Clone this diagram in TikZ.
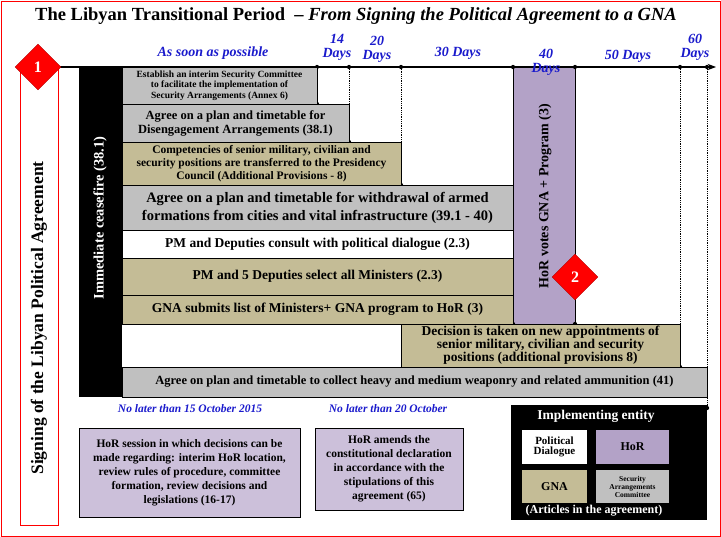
\documentclass[tikz,border=0pt]{standalone}
\usepackage{fontspec}
\setmainfont{Liberation Serif}
\usetikzlibrary{shapes.geometric,arrows.meta}
\definecolor{gr}{HTML}{C0C0C0}
\definecolor{tanc}{HTML}{C4BC96}
\definecolor{pur}{HTML}{B3A2C7}
\definecolor{lav}{HTML}{CCC0DA}
\definecolor{blu}{HTML}{1A1ACC}
\tikzset{
 row/.style={draw=black,thick,font=\bfseries,align=center,inner sep=0pt},
 dl/.style={blu,font=\bfseries\itshape\fontsize{14}{14}\selectfont,align=center},
 dot/.style={densely dotted,thick},
 dmd/.style={diamond,fill=red,draw=red!70!black,minimum size=46pt,inner sep=0pt,text=white,font=\bfseries\fontsize{16}{16}\selectfont},
 pt/.style={circle,fill=black,inner sep=1.5pt},
}
\begin{document}
\begin{tikzpicture}[x=1pt,y=-1pt]
\useasboundingbox (0,0) rectangle (721,537);
\draw[red,thick] (1,1) rectangle (720,536);
\node[font=\bfseries\fontsize{18.5}{18}\selectfont] (title) at (356,16) {The Libyan Transitional Period \ -- \textit{From Signing the Political Agreement to a GNA}};
% axis
\coordinate (a0) at (55,67); \coordinate (a1) at (716,67);
\draw[very thick,-{Stealth}] (a0) -- (a1);
% left box
\draw[red,thick] (20,67) rectangle (58,525);
\node[rotate=90,font=\bfseries\fontsize{17.5}{17}\selectfont] (sign) at (39,318) {Signing of the Libyan Political Agreement};
\node[dmd] (d1) at (38,67) {1};
% black bar
\fill (79,67) rectangle (122,397);
\node[rotate=90,text=white,font=\bfseries\fontsize{14.5}{14}\selectfont] (cease) at (100,218) {Immediate ceasefire (38.1)};
% HoR column
\draw[thick,fill=pur] (513,67) rectangle (575,324);
\node[rotate=90,font=\bfseries\fontsize{14}{14}\selectfont] (hor) at (545,196) {HoR votes GNA + Program (3)};
% dotted
\foreach \x/\y in {317/104,349/142,401/185,513/324,575/324,680/367,707/408}{\draw[dot] (\x,67) -- (\x,\y); \node[pt] at (\x,67){}; \node[pt] at (\x,\y){};}
% rows
\node[row,fill=gr,minimum width=195pt,minimum height=37pt,font=\bfseries\fontsize{9.5}{10.5}\selectfont] (r1) at (219.5,85.5) {Establish an interim Security Committee\\to facilitate the implementation of\\Security Arrangements (Annex 6)};
\node[row,fill=gr,minimum width=227pt,minimum height=38pt,font=\bfseries\fontsize{12.5}{14}\selectfont] (r2) at (235.5,123) {Agree on a plan and timetable for\\Disengagement Arrangements (38.1)};
\node[row,fill=tanc,minimum width=279pt,minimum height=43pt,font=\bfseries\fontsize{11.5}{13}\selectfont] (r3) at (261.5,163.5) {Competencies of senior military, civilian and\\security positions are transferred to the Presidency\\Council (Additional Provisions - 8)};
\node[row,fill=gr,minimum width=391pt,minimum height=45pt,font=\bfseries\fontsize{14.5}{18}\selectfont] (r4) at (317.5,207.5) {Agree on a plan and timetable for withdrawal of armed\\formations from cities and vital infrastructure (39.1 - 40)};
\node[row,fill=white,minimum width=391pt,minimum height=28pt,font=\bfseries\fontsize{13.5}{13}\selectfont] (r5) at (317.5,244) {PM and Deputies consult with political dialogue (2.3)};
\node[row,fill=tanc,minimum width=391pt,minimum height=37pt,font=\bfseries\fontsize{13.5}{13}\selectfont] (r6) at (317.5,276.5) {PM and 5 Deputies select all Ministers (2.3)};
\node[row,fill=tanc,minimum width=391pt,minimum height=29pt,font=\bfseries\fontsize{13.5}{13}\selectfont] (r7) at (317.5,309.5) {GNA submits list of Ministers+ GNA program to HoR (3)};
\node[row,fill=tanc,minimum width=279pt,minimum height=43pt,font=\bfseries\fontsize{13.5}{13}\selectfont] (r8) at (540.5,345.5) {Decision is taken on new appointments of\\senior military, civilian and security\\positions (additional provisions 8)};
\node[row,fill=gr,minimum width=585pt,minimum height=30pt,font=\bfseries\fontsize{12.5}{13}\selectfont] (r9) at (414.5,382) {Agree on plan and timetable to collect heavy and medium weaponry and related ammunition (41)};
\node[dmd] (d2) at (575,277) {2};
% labels
\node[dl] (l0) at (213,53) {As soon as possible};
\node[dl] (l1) at (337,47) {14\\Days};
\node[dl] (l2) at (377,49) {20\\Days};
\node[dl] (l3) at (458,53) {30 Days};
\node[dl] (l4) at (546,62) {40\\Days};
\node[dl] (l5) at (628,56) {50 Days};
\node[dl] (l6) at (695,47) {60\\Days};
% bottom
\node[dl,font=\bfseries\itshape\fontsize{11.5}{12}\selectfont] (n1) at (190,409) {No later than 15 October 2015};
\node[row,fill=lav,minimum width=221pt,minimum height=89pt,font=\bfseries\fontsize{11.5}{14}\selectfont] (b1) at (189.5,472.5) {HoR session in which decisions can be\\made regarding: interim HoR location,\\review rules of procedure, committee\\formation, review decisions and\\legislations (16-17)};
\node[dl,font=\bfseries\itshape\fontsize{11.5}{12}\selectfont] (n2) at (388,409) {No later than 20 October};
\node[row,fill=lav,minimum width=148pt,minimum height=82pt,font=\bfseries\fontsize{11.5}{14}\selectfont] (b2) at (389,469) {HoR amends the\\constitutional declaration\\in accordance with the\\stipulations of this\\agreement (65)};
% legend
\fill (511,405) rectangle (707,520);
\node[text=white,font=\bfseries\fontsize{13.5}{13}\selectfont] (lt) at (596,416) {Implementing entity};
\node[fill=white,minimum width=65pt,minimum height=34pt,inner sep=0pt,align=center,font=\bfseries\fontsize{11}{10}\selectfont] (g1) at (554.5,447) {Political\\Dialogue};
\node[fill=pur,minimum width=73pt,minimum height=34pt,inner sep=0pt,font=\bfseries\fontsize{12}{11}\selectfont] (g2) at (632.5,447) {HoR};
\node[fill=tanc,minimum width=65pt,minimum height=33pt,inner sep=0pt,font=\bfseries\fontsize{12}{11}\selectfont] (g3) at (554.5,486.5) {GNA};
\node[fill=gr,minimum width=73pt,minimum height=33pt,inner sep=0pt,align=center,font=\bfseries\fontsize{7.5}{8}\selectfont] (g4) at (632.5,486.5) {Security\\Arrangements\\Committee};
\node[text=white,font=\bfseries\fontsize{12}{11}\selectfont] (lf) at (594,511) {(Articles in the agreement)};
\end{tikzpicture}
\end{document}
